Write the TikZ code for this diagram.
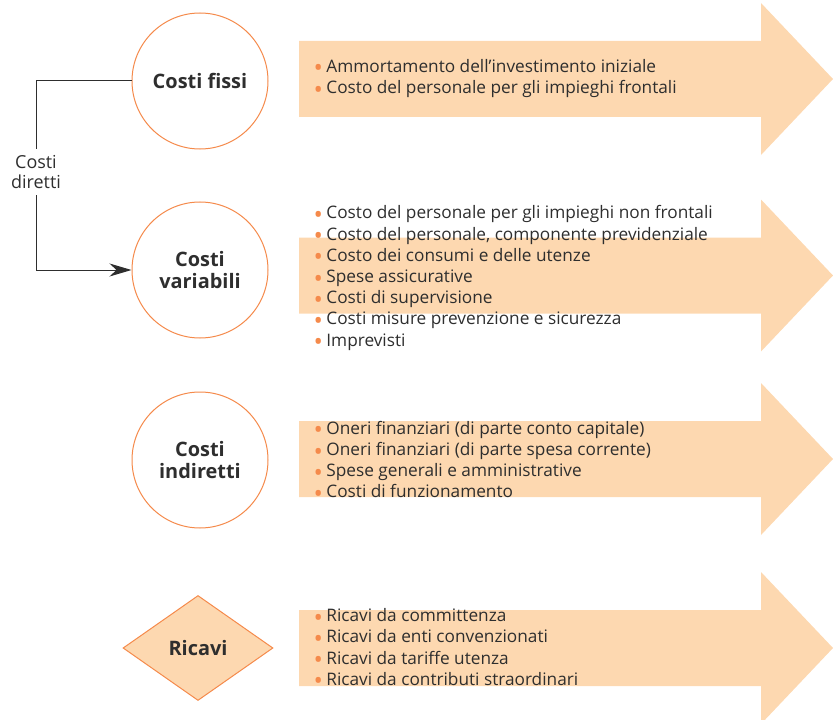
\documentclass[tikz,border=0pt]{standalone}
\usepackage{fontspec}
\setmainfont{Open Sans}
\usepackage{xcolor}
\usetikzlibrary{shapes.geometric, arrows.meta, positioning}

\definecolor{peach}{HTML}{FDD8B0}
\definecolor{edgeorange}{HTML}{F58A4B}
\definecolor{textgray}{HTML}{2E2E2E}

% one bullet line of a list
\newcommand{\itm}[1]{\textcolor{edgeorange}{\smash{\raisebox{-0.5ex}{\scalebox{1.45}{•}}}}\hspace{3.5bp}#1}
% big flat arrow, centre line at #1
\newcommand{\bigarrow}[1]{%
  \fill[peach] (299,#1-38) -- (761,#1-38) -- (761,#1-76) -- (833,#1)
    -- (761,#1+76) -- (761,#1+38) -- (299,#1+38) -- cycle;}

\begin{document}
\begin{tikzpicture}[x=1bp, y=-1bp,
    costo/.style={circle, draw=edgeorange, line width=1bp, fill=white,
      minimum size=136bp, inner sep=0pt, align=center, text=textgray,
      font=\fontsize{20}{21.7}\selectfont\bfseries},
    lista/.style={anchor=west, align=left, text=textgray,
      font=\fontsize{17.3}{21.3}\selectfont}]
    \useasboundingbox (0,0) rectangle (833,720);

    % Arrows
    \bigarrow{79}
    \bigarrow{275.5}
    \bigarrow{459}
    \bigarrow{648}

    % Cost and revenue nodes
    \node[costo] (fissi) at (200,81) {Costi fissi};
    \node[costo] (variabili) at (200,270) {Costi\\variabili};
    \node[costo] (indiretti) at (200,460) {Costi\\indiretti};
    \node[diamond, draw=edgeorange, line width=1bp, fill=peach, aspect=1.43,
      minimum width=150bp, minimum height=105bp, inner sep=0pt, text=textgray,
      font=\fontsize{20}{21.7}\selectfont\bfseries] (ricavi) at (198,648) {Ricavi};

    % Lists
    \node[lista] (l1) at (310,78.5) {\itm{Ammortamento dell’investimento iniziale}\\
      \itm{Costo del personale per gli impieghi frontali}};
    \node[lista] (l2) at (310,278) {\itm{Costo del personale per gli impieghi non frontali}\\
      \itm{Costo del personale, componente previdenziale}\\
      \itm{Costo dei consumi e delle utenze}\\
      \itm{Spese assicurative}\\
      \itm{Costi di supervisione}\\
      \itm{Costi misure prevenzione e sicurezza}\\
      \itm{Imprevisti}};
    \node[lista] (l3) at (310,459.5) {\itm{Oneri finanziari (di parte conto capitale)}\\
      \itm{Oneri finanziari (di parte spesa corrente)}\\
      \itm{Spese generali e amministrative}\\
      \itm{Costi di funzionamento}};
    \node[lista] (l4) at (310,647) {\itm{Ricavi da committenza}\\
      \itm{Ricavi da enti convenzionati}\\
      \itm{Ricavi da tariffe utenza}\\
      \itm{Ricavi da contributi straordinari}};

    % Direct costs bracket
    \node[align=center, text=textgray, inner sep=6bp,
      font=\fontsize{18}{21}\selectfont] (diretti) at (36,172) {Costi\\diretti};
    \draw[textgray, line width=1bp] (fissi.west) -| (diretti.north);
    \draw[textgray, line width=1bp, -{Stealth[length=22bp, width=13bp, inset=7bp]}]
      (diretti.south) |- (variabili.west);
\end{tikzpicture}
\end{document}
